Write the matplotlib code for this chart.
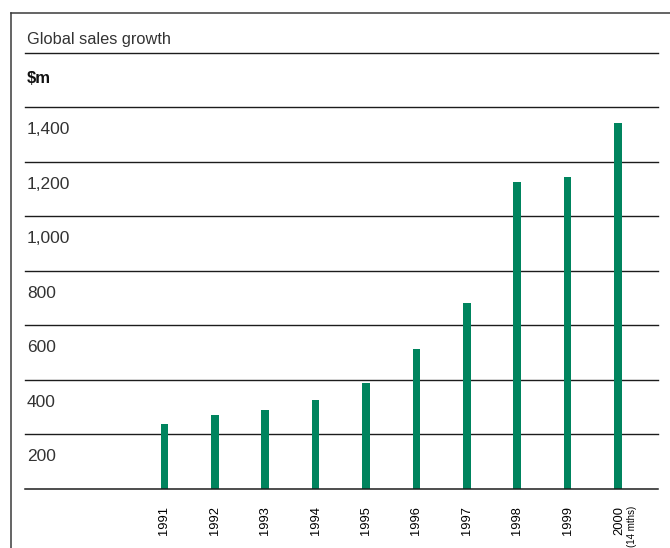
import matplotlib
matplotlib.use("Agg")
import matplotlib.pyplot as plt
from matplotlib.lines import Line2D
from matplotlib.transforms import ScaledTranslation, blended_transform_factory

# ---- data ----
years = ["1991", "1992", "1993", "1994", "1995", "1996", "1997", "1998", "1999", "2000"]
sales = [237, 271, 289, 325, 388, 512, 681, 1126, 1145, 1341]
y_ticks = [0, 200, 400, 600, 800, 1000, 1200, 1400]
y_tick_labels = ["", "200", "400", "600", "800", "1,000", "1,200", "1,400"]
title = "Global sales growth"
unit = "$m"
note_2000 = "(14 mths)"

W, H = 670, 548
fig = plt.figure(figsize=(W / 100, H / 100), dpi=100)
fig.patch.set_facecolor("white")

font = ["Liberation Sans", "DejaVu Sans"]
line_col = "#1c1c1c"
text_col = "#333333"
bar_col = "#00845E"

# frame border (top & left)
fig.add_artist(Line2D([11 / W, 11 / W], [0, 1 - 12.7 / H], transform=fig.transFigure,
                      color="#3a3a3a", lw=1.1))
fig.add_artist(Line2D([11 / W, 1], [1 - 12.7 / H, 1 - 12.7 / H], transform=fig.transFigure,
                      color="#3a3a3a", lw=1.1))
# title rule
fig.add_artist(Line2D([25 / W, 658 / W], [1 - 53.3 / H, 1 - 53.3 / H], transform=fig.transFigure,
                      color=line_col, lw=1.0))

fig.text(27 / W, 1 - 43.7 / H, title, fontsize=11.8, color=text_col, family=font,
         va="baseline", ha="left")
fig.text(27 / W, 1 - 82.7 / H, unit, fontsize=12, color="#111111", family=font,
         fontweight="bold", va="baseline", ha="left")

left, right = 25 / W, 658 / W
bottom, top = 1 - 489 / H, 1 - 107 / H
ax = fig.add_axes([left, bottom, right - left, top - bottom])
ax.set_ylim(0, 1400)
x = list(range(len(years)))
ax.set_xlim(-(164.3 - 25) / 50.4, 9 + (658 - 618) / 50.4)
ax.axis("off")

for v in y_ticks:
    ax.axhline(v, color=line_col, lw=1.1 if v == 0 else 1.0, zorder=3 if v == 0 else 1,
               clip_on=False)

ax.bar(x, sales, width=0.15, color=bar_col, zorder=2)

# y labels hanging below their gridlines
tr = blended_transform_factory(ax.transAxes, ax.transData)
down = ScaledTranslation(0, -27 / 100, fig.dpi_scale_trans)
for v, lab in zip(y_ticks, y_tick_labels):
    if lab:
        ax.text(0.003, v, lab, transform=tr + down, fontsize=12.5, color=text_col,
                family=font, va="baseline", ha="left")

# year labels
down2 = ScaledTranslation(0, -17 / 100, fig.dpi_scale_trans)
for xi, yr in zip(x, years):
    dx = 1.5 / 100 if yr == "2000" else 0
    ax.text(xi, 0, yr, transform=ax.transData + down2 + ScaledTranslation(dx, 0, fig.dpi_scale_trans),
            rotation=90, fontsize=9.3, color="#000000", family=font, va="top", ha="center")
ax.text(x[-1], 0, note_2000,
        transform=ax.transData + down2 + ScaledTranslation(14 / 100, 0, fig.dpi_scale_trans),
        rotation=90, fontsize=7, color="#000000", family=font, va="top", ha="center")

fig.savefig("out.png", dpi=100, facecolor="white")
